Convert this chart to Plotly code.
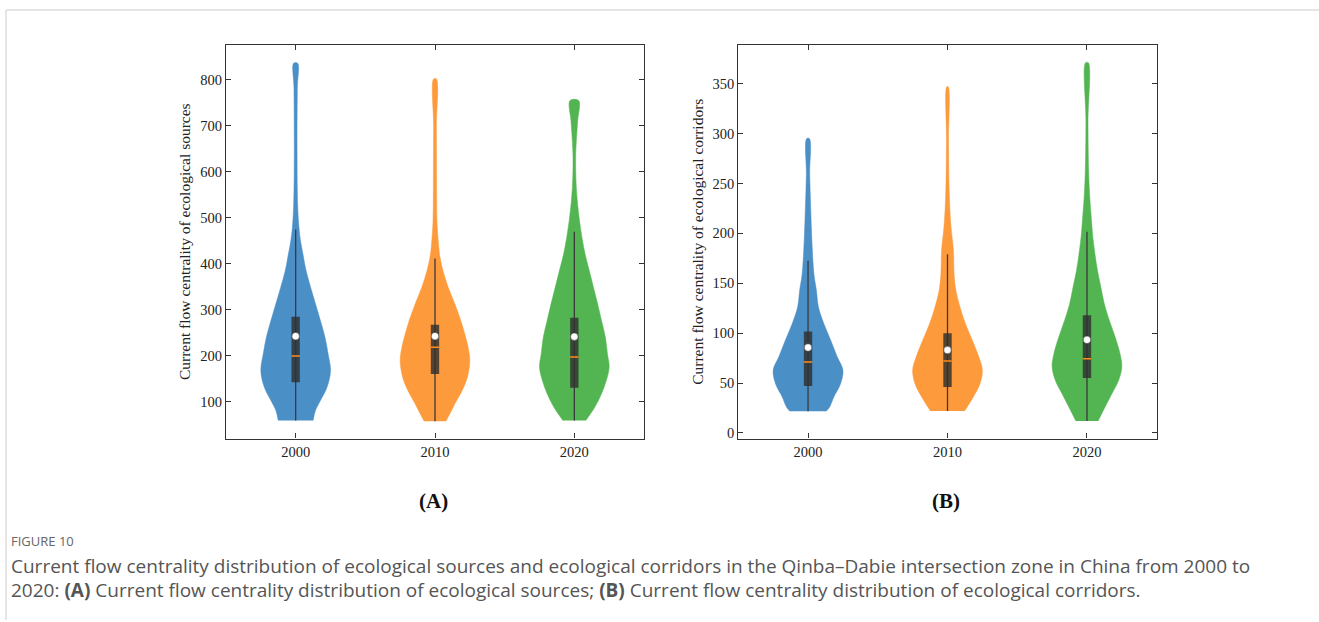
import plotly.graph_objects as go

# ---------------- data ----------------
YEARS = ["2000", "2010", "2020"]
COLORS = ["#4b8fc7", "#fd9a3c", "#52b552"]

# Panel A: ecological sources -- violin outline (value level, relative half-width)
A_LEVELS_2000 = [60, 82, 103, 132, 168, 205, 241, 277, 313, 349, 385, 421, 450, 479, 529, 638, 782, 836]
A_WIDTH_2000 = [0.50, 0.57, 0.71, 0.90, 1.00, 0.93, 0.84, 0.71, 0.57, 0.43, 0.30, 0.21, 0.14, 0.095, 0.057, 0.04, 0.048, 0.057]
A_LEVELS_2010 = [58, 75, 96, 125, 154, 190, 215, 241, 277, 313, 349, 385, 421, 457, 493, 600, 700, 802]
A_WIDTH_2010 = [0.31, 0.43, 0.57, 0.78, 0.93, 1.00, 0.96, 0.88, 0.74, 0.57, 0.38, 0.23, 0.13, 0.086, 0.057, 0.045, 0.04, 0.04]
A_LEVELS_2020 = [60, 89, 118, 147, 176, 205, 241, 277, 313, 349, 385, 421, 457, 493, 529, 565, 601, 638, 667, 710, 755]
A_WIDTH_2020 = [0.33, 0.59, 0.78, 0.92, 1.00, 0.95, 0.89, 0.78, 0.67, 0.55, 0.43, 0.31, 0.22, 0.15, 0.095, 0.057, 0.04, 0.04, 0.057, 0.095, 0.124]

A_Q1 = [143, 161, 131]
A_Q3 = [285, 268, 283]
A_MEDIAN = [200, 219, 198]
A_MEAN = [243, 243, 242]
A_WHISK_LO = [60, 58, 60]
A_WHISK_HI = [475, 412, 470]

# Panel B: ecological corridors
B_LEVELS_2000 = [21.6, 26, 36, 49, 63, 76, 93, 109, 126, 143, 159, 193, 226, 259, 295]
B_WIDTH_2000 = [0.52, 0.62, 0.74, 0.93, 1.00, 0.84, 0.65, 0.46, 0.30, 0.24, 0.17, 0.11, 0.076, 0.048, 0.04]
B_LEVELS_2010 = [22, 36, 49, 63, 76, 93, 109, 126, 143, 159, 183, 209, 243, 293, 347]
B_WIDTH_2010 = [0.49, 0.74, 0.93, 1.00, 0.90, 0.71, 0.52, 0.36, 0.24, 0.19, 0.17, 0.095, 0.048, 0.03, 0.02]
B_LEVELS_2020 = [12, 26, 39, 52, 66, 79, 96, 113, 129, 146, 163, 179, 196, 213, 239, 263, 313, 371]
B_WIDTH_2020 = [0.32, 0.52, 0.71, 0.90, 1.00, 0.95, 0.81, 0.64, 0.50, 0.40, 0.30, 0.23, 0.17, 0.13, 0.076, 0.048, 0.03, 0.04]

B_Q1 = [47, 46, 55]
B_Q3 = [101.6, 100, 118]
B_MEDIAN = [71, 72, 74.3]
B_MEAN = [85.6, 83, 93.3]
B_WHISK_LO = [21.6, 22, 12]
B_WHISK_HI = [172.6, 179, 201.6]

A_TICKS = [100, 200, 300, 400, 500, 600, 700, 800]
B_TICKS = [0, 50, 100, 150, 200, 250, 300, 350]

A_TITLE = "Current flow centrality of ecological sources"
B_TITLE = "Current flow centrality of ecological corridors"

CAPTION_HEAD = "FIGURE 10"
CAPTION_1 = ("Current flow centrality distribution of ecological sources and ecological corridors "
             "in the Qinba\u2013Dabie intersection zone in China from 2000 to")
CAPTION_2 = ("2020: <b>(A)</b> Current flow centrality distribution of ecological sources; "
             "<b>(B)</b> Current flow centrality distribution of ecological corridors.")

# ---------------- figure ----------------
W, H = 1319, 622
HALF = 0.25       # max violin half-width in category units
BOXHALF = 0.03    # box half-width in category units

fig = go.Figure()


def add_panel(levels_list, widths_list, q1, q3, med, mean, wlo, whi, xa, ya):
    for i in range(3):
        lv = levels_list[i]
        wd = widths_list[i]
        # right side going up, then left side going down; fill closes the flat bottom
        xs = [i + HALF * w for w in wd] + [i - HALF * w for w in reversed(wd)]
        ys = list(lv) + list(reversed(lv))
        fig.add_trace(go.Scatter(x=xs, y=ys, mode="lines", fill="toself",
                                 fillcolor=COLORS[i],
                                 line=dict(color=COLORS[i], width=0.5, shape="spline", smoothing=1.0),
                                 xaxis=xa, yaxis=ya, hoverinfo="skip", showlegend=False))
        # whisker line
        fig.add_trace(go.Scatter(x=[i, i], y=[wlo[i], whi[i]], mode="lines",
                                 line=dict(color="#3a3a3a", width=1.3),
                                 xaxis=xa, yaxis=ya, hoverinfo="skip", showlegend=False))
        # box (IQR)
        fig.add_trace(go.Scatter(x=[i - BOXHALF, i + BOXHALF, i + BOXHALF, i - BOXHALF, i - BOXHALF],
                                 y=[q1[i], q1[i], q3[i], q3[i], q1[i]], mode="lines", fill="toself",
                                 fillcolor="rgba(48,48,48,0.82)", line=dict(width=0),
                                 xaxis=xa, yaxis=ya, hoverinfo="skip", showlegend=False))
        # median
        fig.add_trace(go.Scatter(x=[i - BOXHALF, i + BOXHALF], y=[med[i], med[i]], mode="lines",
                                 line=dict(color="#ff8c1a", width=1.5),
                                 xaxis=xa, yaxis=ya, hoverinfo="skip", showlegend=False))
        # mean
        fig.add_trace(go.Scatter(x=[i], y=[mean[i]], mode="markers",
                                 marker=dict(color="white", size=7.5, line=dict(color="#333", width=0.5)),
                                 xaxis=xa, yaxis=ya, hoverinfo="skip", showlegend=False))


add_panel([A_LEVELS_2000, A_LEVELS_2010, A_LEVELS_2020], [A_WIDTH_2000, A_WIDTH_2010, A_WIDTH_2020],
          A_Q1, A_Q3, A_MEDIAN, A_MEAN, A_WHISK_LO, A_WHISK_HI, "x", "y")
add_panel([B_LEVELS_2000, B_LEVELS_2010, B_LEVELS_2020], [B_WIDTH_2000, B_WIDTH_2010, B_WIDTH_2020],
          B_Q1, B_Q3, B_MEDIAN, B_MEAN, B_WHISK_LO, B_WHISK_HI, "x2", "y2")

serif = "Liberation Serif, Times New Roman, serif"
axis_common = dict(showline=True, linecolor="#333", linewidth=1.3, mirror="ticks",
                   ticks="inside", ticklen=5, tickwidth=1.2, tickcolor="#333",
                   showgrid=False, zeroline=False, tickfont=dict(family=serif, size=14.5, color="#222"))

yd = [(H - 440) / H, (H - 45) / H]

fig.update_layout(
    width=W, height=H, autosize=False,
    margin=dict(l=0, r=0, t=0, b=0),
    paper_bgcolor="white", plot_bgcolor="white",
    showlegend=False,
    xaxis=dict(domain=[226 / W, 644 / W], anchor="y", range=[-0.5, 2.5],
               tickvals=[0, 1, 2], ticktext=YEARS, **axis_common),
    yaxis=dict(domain=yd, anchor="x", range=[20.5, 876], tickvals=A_TICKS,
               title=dict(text=A_TITLE, font=dict(family=serif, size=15.5, color="#222"), standoff=5),
               **axis_common),
    xaxis2=dict(domain=[738.3 / W, 1156.7 / W], anchor="y2", range=[-0.5, 2.5],
                tickvals=[0, 1, 2], ticktext=YEARS, **axis_common),
    yaxis2=dict(domain=yd, anchor="x2", range=[-5.7, 389], tickvals=B_TICKS,
                title=dict(text=B_TITLE, font=dict(family=serif, size=15.5, color="#222"), standoff=5),
                **axis_common),
)

# page frame lines (top and left)
fig.add_shape(type="line", xref="paper", yref="paper", x0=6 / W, x1=1, y0=1 - 10 / H, y1=1 - 10 / H,
              line=dict(color="#dcdcdc", width=1.5))
fig.add_shape(type="line", xref="paper", yref="paper", x0=6 / W, x1=6 / W, y0=0, y1=1 - 10 / H,
              line=dict(color="#dcdcdc", width=1.5))

# panel labels
fig.add_annotation(text="<b>(A)</b>", xref="paper", yref="paper", x=433 / W, y=1 - 503 / H,
                   showarrow=False, font=dict(family=serif, size=21, color="#111"), xanchor="center", yanchor="middle")
fig.add_annotation(text="<b>(B)</b>", xref="paper", yref="paper", x=946 / W, y=1 - 503 / H,
                   showarrow=False, font=dict(family=serif, size=21, color="#111"), xanchor="center", yanchor="middle")

sans = "Open Sans, Noto Sans, sans-serif"
fig.add_annotation(text=CAPTION_HEAD, xref="paper", yref="paper", x=9 / W, y=1 - 543 / H,
                   showarrow=False, font=dict(family=sans, size=13, color="#666"), xanchor="left", yanchor="middle")
fig.add_annotation(text=CAPTION_1, xref="paper", yref="paper", x=9 / W, y=1 - 568 / H,
                   showarrow=False, font=dict(family=sans, size=19, color="#555"), xanchor="left", yanchor="middle")
fig.add_annotation(text=CAPTION_2, xref="paper", yref="paper", x=9 / W, y=1 - 592 / H,
                   showarrow=False, font=dict(family=sans, size=19, color="#555"), xanchor="left", yanchor="middle")

fig.write_html("out.html", config={"displayModeBar": False},
               post_script="document.body.style.margin='0';document.body.style.overflow='hidden';")
